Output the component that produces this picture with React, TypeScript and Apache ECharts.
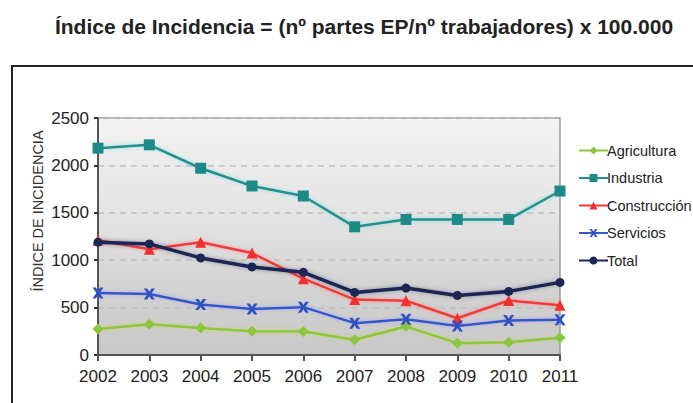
import React, { useEffect, useRef } from "react";
import * as echarts from "echarts";

const years = ["2002", "2003", "2004", "2005", "2006", "2007", "2008", "2009", "2010", "2011"];
const agricultura = [275, 325, 285, 250, 248, 160, 300, 125, 135, 183];
const industria = [2182, 2217, 1970, 1783, 1677, 1352, 1430, 1430, 1430, 1730];
const construccion = [1210, 1115, 1190, 1075, 805, 585, 572, 388, 575, 525];
const servicios = [653, 643, 532, 484, 505, 336, 378, 307, 363, 371];
const total = [1190, 1172, 1024, 929, 872, 660, 706, 628, 671, 766];

const title = "Índice de Incidencia = (nº partes EP/nº trabajadores) x 100.000";
const yName = "ÍNDICE DE INCIDENCIA";

const xMarker = "path://M0,0 L3,0 L5,3 L7,0 L10,0 L6.5,5 L10,10 L7,10 L5,7 L3,10 L0,10 L3.5,5 Z";
const FONT = "'Liberation Sans', Arial, sans-serif";

export default function App() {
  const ref = useRef<HTMLDivElement>(null);
  useEffect(() => {
    if (!ref.current) return;
    const chart = echarts.init(ref.current, null, { renderer: "svg" });
    const mk = (name: string, data: number[], lineColor: string, markColor: string, symbol: string, size: number, width: number, shadow: string) => ({
      name,
      type: "line",
      data,
      symbol,
      symbolSize: size,
      showSymbol: true,
      lineStyle: { color: lineColor, width, shadowColor: shadow, shadowBlur: 4 },
      itemStyle: { color: markColor },
    });
    chart.setOption({
      animation: false,
      backgroundColor: "#ffffff",
      textStyle: { fontFamily: FONT },
      title: {
        text: title,
        left: 359,
        textAlign: "center",
        top: 11,
        textStyle: { fontFamily: "'Liberation Sans Narrow', 'Liberation Sans', Arial", fontWeight: "bold", fontSize: 21, color: "#222" },
      },
      graphic: [
        { type: "rect", shape: { x: 12, y: 66, width: 720, height: 400 }, style: { fill: "none", stroke: "#222", lineWidth: 2 }, z: 10 },
        { type: "text", x: 38, y: 211, rotation: Math.PI / 2, style: { text: yName, fontSize: 14.5, fill: "#333", align: "center", verticalAlign: "middle", fontFamily: FONT } },
      ],
      legend: {
        orient: "vertical",
        left: 573,
        top: 138,
        itemWidth: 29,
        itemHeight: 10,
        itemGap: 12.5,
        textStyle: { fontSize: 14.5, color: "#222", padding: [0, 0, 0, -6], fontFamily: FONT },
        data: ["Agricultura", "Industria", "Construcción", "Servicios", "Total"],
      },
      grid: {
        left: 98,
        right: 133,
        top: 118,
        bottom: 48,
        show: true,
        borderColor: "#9a9a9a",
        borderWidth: 1.5,
        backgroundColor: new echarts.graphic.LinearGradient(0, 0, 0, 1, [
          { offset: 0, color: "#f3f3f3" },
          { offset: 0.45, color: "#e2e2e2" },
          { offset: 0.7, color: "#d4d4d4" },
          { offset: 1, color: "#c8c8c8" },
        ]),
      },
      xAxis: {
        type: "category",
        data: years,
        boundaryGap: false,
        axisLine: { lineStyle: { color: "#555", width: 2 } },
        axisTick: { show: true, length: 6, lineStyle: { color: "#555", width: 2 }, alignWithLabel: true },
        axisLabel: { fontSize: 17, color: "#222", margin: 13, fontFamily: FONT },
        splitLine: { show: false },
      },
      yAxis: {
        type: "value",
        min: 0,
        max: 2500,
        interval: 500,
        axisLine: { show: true, lineStyle: { color: "#555", width: 2 } },
        axisTick: { show: true, length: 4, lineStyle: { color: "#333", width: 2 } },
        axisLabel: { fontSize: 17, color: "#222", margin: 9, fontFamily: FONT, formatter: (v: number) => String(v) },
        splitLine: { show: true, lineStyle: { color: "#c0c0c0", type: [6, 5], width: 1.5 } },
      },
      series: [
        mk("Agricultura", agricultura, "#8cc63e", "#8cc63e", "diamond", 11, 2.5, "rgba(200,210,80,0.6)"),
        mk("Industria", industria, "#21908f", "#1e8a88", "rect", 11, 2.5, "rgba(120,210,210,0.7)"),
        mk("Construcción", construccion, "#f03a3a", "#f23030", "triangle", 11, 2.5, "rgba(255,130,130,0.7)"),
        mk("Servicios", servicios, "#3557c8", "#2f4fc4", xMarker, 11, 2.5, "rgba(150,160,230,0.8)"),
        mk("Total", total, "#1c2553", "#1c2553", "circle", 9, 3.5, "rgba(60,70,110,0.5)"),
      ],
    });
    return () => chart.dispose();
  }, []);
  return <div ref={ref} style={{ position: "fixed", left: 0, top: 0, width: 693, height: 403 }} />;
}
